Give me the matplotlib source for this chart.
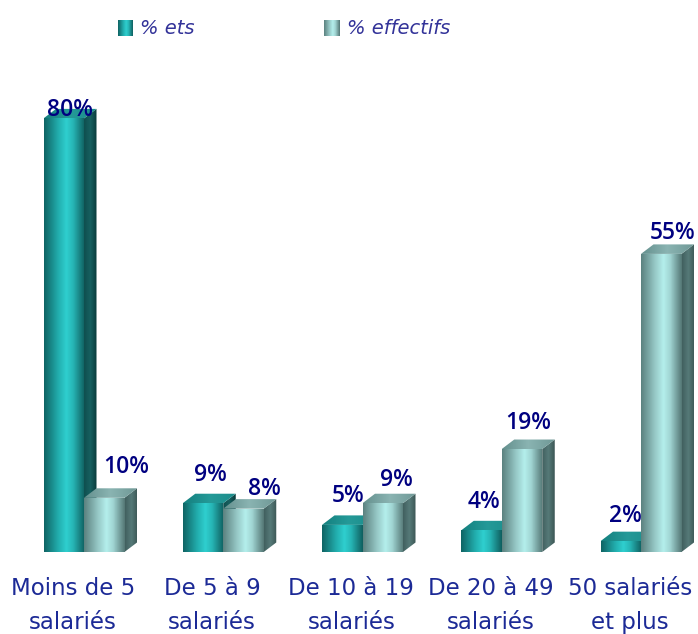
import numpy as np
import matplotlib
matplotlib.use('Agg')
import matplotlib.pyplot as plt
from matplotlib.colors import LinearSegmentedColormap
from matplotlib.patches import Polygon

categories = ['Moins de 5\nsalariés', 'De 5 à 9\nsalariés', 'De 10 à 19\nsalariés',
              'De 20 à 49\nsalariés', '50 salariés\net plus']
pct_ets = [80, 9, 5, 4, 2]
pct_effectifs = [10, 8, 9, 19, 55]
series_names = ['% ets', '% effectifs']

# decalage des etiquettes en pixels (x, y) par rapport au haut de la barre
offset_ets = [(6, 8), (7, 28), (6, 29), (3, 28), (5, 25)]
offset_eff = [(22, 31), (21, 20), (14, 23), (6, 26), (11, 21)]

W, H = 698, 634
BASE = 552
PX_X = 139.25
PX_Y = 5.42
BAR_W = 40.5 / PX_X
DX = 12.5 / PX_X
DY = 9.5 / PX_Y

NAVY = '#000080'
LABEL = '#1c2a96'
LEGEND = '#333399'

cm_ets = LinearSegmentedColormap.from_list('ets', [(0, '#0f6464'), (0.35, '#22aeae'), (0.55, '#2fcfcf'), (0.72, '#26b4b4'), (1, '#0f6060')])
cm_eff = LinearSegmentedColormap.from_list('eff', [(0, '#5c8280'), (0.35, '#98cac8'), (0.55, '#b4efec'), (0.72, '#a0d4d2'), (1, '#557876')])
cm_ets_side = LinearSegmentedColormap.from_list('ets_s', ['#0f4f4f', '#176060', '#0a3a3a'])
cm_eff_side = LinearSegmentedColormap.from_list('eff_s', ['#41605f', '#567a78', '#3c5655'])
cm_ets_top = LinearSegmentedColormap.from_list('ets_t', ['#14807f', '#249a98', '#1c8c8b'])
cm_eff_top = LinearSegmentedColormap.from_list('eff_t', ['#64908e', '#8ab4b2', '#6f9896'])
grad = np.linspace(0, 1, 64).reshape(1, -1)

fig = plt.figure(figsize=(W / 100, H / 100), dpi=100)
ax = fig.add_axes([0, (H - BASE) / H, 1, BASE / H])


def fill_grad(cmap, pts, z):
    # degrade horizontal coupe sur le polygone
    xs = [p[0] for p in pts]
    ys = [p[1] for p in pts]
    im = ax.imshow(grad, cmap=cmap, aspect='auto', zorder=z, interpolation='bilinear',
                   extent=(min(xs), max(xs), min(ys), max(ys)))
    poly = Polygon(pts, closed=True, transform=ax.transData, fc='none', ec='none')
    ax.add_patch(poly)
    im.set_clip_path(poly)


def bar3d(x0, val, front, side, top, z):
    x1 = x0 + BAR_W
    fill_grad(side, [(x1, 0), (x1 + DX, DY), (x1 + DX, val + DY), (x1, val)], z)
    fill_grad(top, [(x0, val), (x1, val), (x1 + DX, val + DY), (x0 + DX, val + DY)], z)
    fill_grad(front, [(x0, 0), (x1, 0), (x1, val), (x0, val)], z + 0.1)


x = np.arange(len(categories))
for i in x:
    bar3d(i - BAR_W, pct_ets[i], cm_ets, cm_ets_side, cm_ets_top, 2 + i)
    bar3d(i, pct_effectifs[i], cm_eff, cm_eff_side, cm_eff_top, 2.5 + i)

ax.set_xlim(-84 / PX_X, (W - 84) / PX_X)
ax.set_ylim(0, BASE / PX_Y)

for i in x:
    for xb, val, off in [(i - BAR_W / 2, pct_ets[i], offset_ets[i]),
                         (i + BAR_W / 2, pct_effectifs[i], offset_eff[i])]:
        ax.annotate('%d%%' % val, (xb, val), xytext=off, textcoords='offset pixels',
                    ha='center', va='center', fontsize=16.5, color=NAVY,
                    family='Open Sans', fontweight='semibold', zorder=20)

ax.set_xticks(x - 0.08, categories)
ax.tick_params(axis='x', length=0, pad=18, labelsize=16.5, labelcolor=LABEL)
ax.set_yticks([])
for lab in ax.get_xticklabels():
    lab.set_family('DejaVu Sans')
    lab.set_linespacing(1.62)
for s in ax.spines.values():
    s.set_visible(False)
ax.patch.set_alpha(0)

# legende
for name, cmap, px0, pw, tx in [(series_names[0], cm_ets, 118, 15, 140),
                                (series_names[1], cm_eff, 324, 16, 347)]:
    lax = fig.add_axes([px0 / W, 1 - 36 / H, pw / W, 16 / H])
    lax.imshow(grad, cmap=cmap, aspect='auto')
    lax.axis('off')
    fig.text(tx / W, 1 - 28 / H, name, fontsize=14, style='italic', color=LEGEND,
             family='DejaVu Sans', ha='left', va='center')

fig.savefig('out.png', dpi=100)
